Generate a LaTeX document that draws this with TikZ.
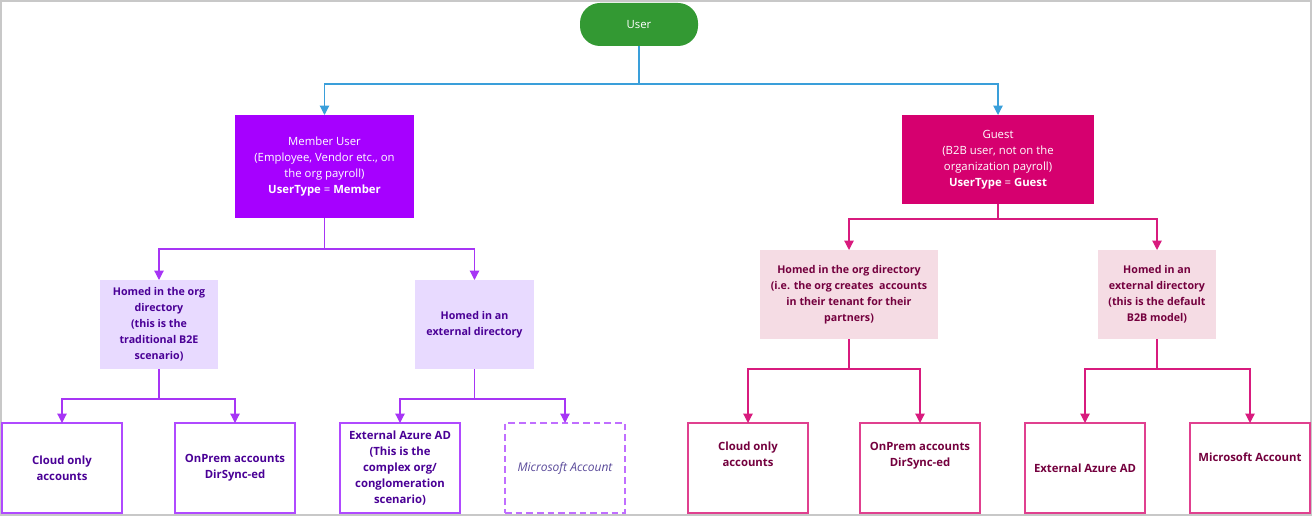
\documentclass[tikz,border=0pt]{standalone}
\usepackage{fontspec}
\setmainfont{Open Sans}
\usetikzlibrary{arrows.meta}
\definecolor{ugreen}{HTML}{339933}
\definecolor{ublue}{HTML}{3A9FDA}
\definecolor{upurple}{HTML}{A600FF}
\definecolor{plink}{HTML}{A735F5}
\definecolor{lav}{HTML}{E8DAFF}
\definecolor{lavtext}{HTML}{4A0096}
\definecolor{pborder}{HTML}{B04AFF}
\definecolor{umag}{HTML}{D6006F}
\definecolor{mlink}{HTML}{D81B7E}
\definecolor{pink}{HTML}{F5DCE4}
\definecolor{pinktext}{HTML}{74003E}
\definecolor{mborder}{HTML}{E0408F}
\definecolor{msoft}{HTML}{5A4A9A}
\definecolor{frame}{HTML}{C8C8C8}
\begin{document}
\begin{tikzpicture}[x=0.75pt,y=-0.75pt,
  base/.style={rectangle, inner sep=2pt, outer sep=0pt, align=center, font=\fontsize{8.5}{12}\selectfont},
  userbox/.style={base, fill=ugreen, text=white, rounded corners=15pt, minimum width={118*0.75pt}, minimum height={43*0.75pt}},
  memberbox/.style={base, fill=upurple, text=white, minimum width={179*0.75pt}, minimum height={103*0.75pt}},
  guestbox/.style={base, fill=umag, text=white, minimum width={192*0.75pt}, minimum height={89*0.75pt}},
  lavbox/.style={base, fill=lav, text=lavtext, font=\fontsize{8}{12}\selectfont\bfseries, minimum height={89*0.75pt}},
  pinkbox/.style={base, fill=pink, text=pinktext, font=\fontsize{8}{12}\selectfont\bfseries, minimum height={89*0.75pt}},
  pleaf/.style={base, draw=pborder, line width=0.9pt, fill=white, text=lavtext, font=\fontsize{8.5}{12}\selectfont\bfseries, minimum width={120*0.75pt}, minimum height={90*0.75pt}},
  pleafdash/.style={pleaf, draw=pborder!80, dash pattern=on 5pt off 3pt, text=msoft, font=\fontsize{9}{12}\selectfont\itshape},
  mleaf/.style={base, draw=mborder, line width=0.9pt, fill=white, text=pinktext, font=\fontsize{8.5}{12}\selectfont\bfseries, minimum width={120*0.75pt}, minimum height={90*0.75pt}},
  conn/.style={line width=0.9pt, -{Triangle[width=7pt,length=7pt]}},
  bconn/.style={conn, draw=ublue},
  pconn/.style={conn, draw=plink},
  mconn/.style={conn, draw=mlink}
]
\useasboundingbox (0,0) rectangle (1312,516);
\draw[frame, line width=0.9pt] (1,1) rectangle (1311,515);

% top
\node[userbox] (user) at (639,24.5) {User};
\node[memberbox] (member) at (324.5,166.5) {Member User\\(Employee, Vendor etc., on\\the org payroll)\\\textbf{UserType} = \textbf{Member}};
\node[guestbox] (guest) at (998,159.5) {Guest\\(B2B user, not on the\\organization payroll)\\\textbf{UserType} = \textbf{Guest}};

% member side
\node[lavbox, minimum width={118*0.75pt}] (lavL) at (159,324.5) {Homed in the org\\directory\\(this is the\\traditional B2E\\scenario)};
\node[lavbox, minimum width={119*0.75pt}] (lavR) at (474.5,324.5) {Homed in an\\external directory};
\node[pleaf] (pcloud) at (62,468) {Cloud only\\accounts};
\node[pleaf] (ponprem) at (235,468) {OnPrem accounts\\DirSync-ed};
\node[pleaf] (pext) at (400,468) {External Azure AD\\(This is the\\complex org/\\conglomeration\\scenario)};
\node[pleafdash] (pms) at (565,468) {Microsoft Account};

% guest side
\node[pinkbox, minimum width={178*0.75pt}] (pinkL) at (849,294.5) {Homed in the org directory\\(i.e. the org creates\ \ accounts\\in their tenant for their\\partners)};
\node[pinkbox, minimum width={118*0.75pt}] (pinkR) at (1157,294.5) {Homed in an\\external directory\\(this is the default\\B2B model)};
\node[mleaf] (mcloud) at (748,468) {Cloud only\\accounts\\[8pt]};
\node[mleaf] (monprem) at (920,468) {OnPrem accounts\\DirSync-ed\\[8pt]};
\node[mleaf] (mext) at (1085,468) {External Azure AD};
\node[mleaf] (mms) at (1250,468) {Microsoft Account\\[4pt]};

% connectors
\draw[bconn] (user.south) -- ++(0,38) -| (member.north);
\draw[bconn] (user.south) -- ++(0,38) -| (guest.north);

\draw[pconn] (member.south) -- ++(0,31) -| (lavL.north);
\draw[pconn] (member.south) -- ++(0,31) -| (lavR.north);
\draw[pconn] (lavL.south) -- ++(0,30) -| (pcloud.north);
\draw[pconn] (lavL.south) -- ++(0,30) -| (ponprem.north);
\draw[pconn] (lavR.south) -- ++(0,30) -| (pext.north);
\draw[pconn] (lavR.south) -- ++(0,30) -| (pms.north);

\draw[mconn] (guest.south) -- ++(0,15) -| (pinkL.north);
\draw[mconn] (guest.south) -- ++(0,15) -| (pinkR.north);
\draw[mconn] (pinkL.south) -- ++(0,30) -| (mcloud.north);
\draw[mconn] (pinkL.south) -- ++(0,30) -| (monprem.north);
\draw[mconn] (pinkR.south) -- ++(0,30) -| (mext.north);
\draw[mconn] (pinkR.south) -- ++(0,30) -| (mms.north);
\end{tikzpicture}
\end{document}
